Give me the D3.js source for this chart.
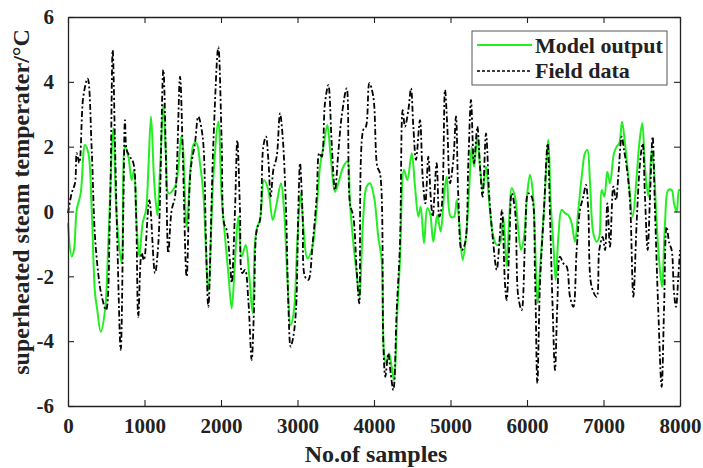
<!DOCTYPE html>
<html>
<head>
<meta charset="utf-8">
<script src="https://cdn.jsdelivr.net/npm/d3@7"></script>
<style>
  body { margin: 0; background: #fff; }
  text { font-family: "Liberation Serif", "Times New Roman", serif; font-weight: bold; fill: #222; }
</style>
</head>
<body>
<div class="chart"></div>
<script>
// field data (black dash-dot)
const fieldX = [0, 48, 92, 114, 148, 200, 257, 310, 353, 410, 440, 497, 549, 584, 614, 645, 689, 723, 745, 767, 810, 854, 889, 919, 963, 993,
  1063, 1137, 1181, 1246, 1281, 1311, 1355, 1399, 1464, 1499, 1551, 1603, 1660, 1703, 1760, 1804, 1834, 1900, 1965,
  2009, 2039, 2074, 2118, 2140, 2183, 2213, 2248, 2278, 2314, 2357, 2401, 2431, 2467, 2510, 2553, 2588, 2619, 2650, 2684, 2728, 2771, 2806, 2850, 2880, 2911, 2945, 2980,
  3011, 3033, 3068, 3098, 3141, 3198, 3251, 3285, 3316, 3359, 3403, 3447, 3490, 3533, 3577, 3643, 3686, 3730, 3773, 3808, 3860, 3895, 3939, 3991,
  4043, 4078, 4122, 4148, 4187, 4218, 4253, 4297, 4340, 4375, 4405, 4449, 4484, 4514, 4549, 4601, 4636, 4671, 4710, 4741, 4767, 4819, 4854, 4885, 4928, 4958, 4993,
  5037, 5072, 5102, 5146, 5190, 5233, 5268, 5307, 5351, 5386, 5420, 5464, 5507, 5551, 5604, 5638, 5673, 5712, 5734, 5769, 5800, 5843, 5886, 5930, 5974,
  6017, 6061, 6105, 6135, 6170, 6222, 6270, 6301, 6336, 6366, 6397, 6431, 6475, 6519, 6562, 6606, 6649, 6693, 6736, 6771, 6801, 6845, 6911, 6945, 6989,
  7020, 7050, 7085, 7129, 7163, 7193, 7238, 7268, 7303, 7346, 7390, 7433, 7477, 7512, 7542, 7577, 7608, 7642, 7673, 7716, 7760, 7791, 7825, 7860, 7891, 7922, 7948, 7978, 8000];
const fieldY = [-0.05, 0.57, 0.88, 1.8, 1.5, 3.54, 4.1, 1.9, -0.78, -2.2, -2.6, -3.04, 0.05, 4.98, 2.1, -0.98, -4.27, 0.04, 2.82, 1.9, 1.69, 1.5, 0.05, -3.25, -1.28, -1.5,
  0.35, -1.9, -0.98, 4.37, 1.59, -1.28, 0.05, 0.46, 4.16, 1.9, -2.01, 1.28, 2.11, 2.93, 2.31, -0.98, -2.94, 2.11, 5.07,
  2.11, -0.36, -0.57, -1.59, -2.2, 0.05, 2.2, 0.05, -1.9, -1.8, -2.73, -4.58, -3.04, -0.57, -0.26, 2.0, 2.31, 1.59, 0.46, 1.28, 1.69, 3.03, 2.31, 0.05, -2.83, -4.17, -3.86, -3.04,
  0.05, 1.49, -0.16, -2.01, -2.11, -0.98, 0.46, 1.8, 1.69, 3.34, 3.9, 2.1, 0.66, 1.8, 2.93, 3.8, 0.25, -0.16, -1.8, -2.83, 2.52, 2.62, 3.96, 3.54,
  1.38, 1.18, -4.07, -5.1, -4.38, -4.99, -5.51, -3.04, -0.98, 3.13, 2.62, 3.13, 3.8, 2.62, 1.59, 2.82, 1.07, 0.25, 1.69, 0.46, -0.16, 1.49, -0.16, 0.15, 3.75, 2.62, 0.87,
  1.59, 2.93, 0.46, -1.19, -0.98, 1.49, 3.44, 1.49, 2.62, 1.38, 0.46, 2.41, 0.46, -0.78, -1.8, -0.98, 0.05, -2.22, -2.73, -0.98, 0.56, 0.05, -2.63, -3.04, -0.98,
  0.56, 0.46, -2.01, -5.3, -2.22, 0.05, 2.1, -0.16, -3.04, -4.89, -2.83, -1.39, -1.6, -1.7, -2.63, -2.94, -1.19, 0.05, 0.46, 0.82, 0.05, -2.32, -2.63, -1.19, -0.78,
  -1.19, 0.25, -1.09, 0.77, 0.35, 1.07, 2.31, 1.9, 1.38, 0.35, -2.63, -0.36, 1.49, 2.1, 0.46, -1.19, 0.46, 2.31, 0.05, -3.04, -5.41, -3.04, -0.47, -0.98, -1.19, -2.52, -2.94, -2.01, -1.19];

// model output (green)
const modelX = [0, 48, 78, 114, 166, 222, 266, 310, 353, 383, 427, 484, 527, 593, 636, 702, 745, 789, 832, 863, 898, 932, 976,
  1020, 1050, 1085, 1128, 1168, 1203, 1246, 1281, 1316, 1399, 1486, 1551, 1603, 1647, 1682, 1725, 1769, 1834, 1900, 1965,
  2009, 2052, 2096, 2140, 2183, 2227, 2270, 2323, 2370, 2414, 2444, 2475, 2510, 2562, 2619, 2676, 2728, 2784, 2824, 2867, 2911, 2954, 2997,
  3042, 3076, 3129, 3185, 3242, 3294, 3346, 3390, 3434, 3490, 3533, 3599, 3651, 3686, 3730, 3773, 3808, 3860, 3904, 3948,
  4000, 4056, 4100, 4131, 4157, 4196, 4231, 4261, 4305, 4340, 4392, 4436, 4493, 4536, 4580, 4610, 4654, 4697, 4732, 4775, 4827, 4871, 4915, 4950,
  5002, 5046, 5081, 5115, 5159, 5203, 5246, 5277, 5307, 5351, 5386, 5420, 5464, 5507, 5560, 5604, 5647, 5690, 5734, 5769, 5800, 5843, 5886, 5922, 5961,
  6004, 6039, 6074, 6105, 6139, 6170, 6222, 6279, 6310, 6344, 6375, 6410, 6453, 6497, 6540, 6584, 6627, 6671, 6715, 6758, 6789, 6824, 6867, 6911, 6945, 6976,
  7011, 7050, 7085, 7137, 7172, 7206, 7242, 7281, 7325, 7382, 7433, 7468, 7507, 7542, 7586, 7630, 7660, 7695, 7730, 7765, 7804, 7847, 7891, 7922, 7956, 7987, 8000];
const modelY = [-0.36, -1.39, -1.19, 0.05, 0.56, 2.05, 1.8, 0.05, -2.52, -3.04, -3.71, -3.04, -0.98, 2.57, -0.16, -1.6, 2.0, 1.69, 0.97, 1.28, -0.47, -1.39, -0.36,
  0.05, 1.28, 2.93, 0.87, -0.11, 1.28, 3.29, 1.69, 0.56, 0.77, 2.31, -0.47, 1.38, 2.1, 2.1, 1.49, 0.56, -2.42, 1.07, 2.77,
  0.46, -0.78, -1.91, -2.99, -1.5, -0.16, -1.39, -1.03, -2.01, -3.14, -0.98, -0.47, -0.26, 0.97, 0.66, -0.26, 0.25, 0.87, 0.05, -2.01, -3.5, -3.04, -0.98,
  0.56, -0.47, -1.45, -1.19, -0.16, 1.38, 2.1, 2.67, 1.69, 0.61, 0.87, 1.38, 1.54, 0.25, -0.98, -1.91, -2.63, -0.16, 0.77, 0.87,
  0.46, -0.78, -1.5, -4.38, -4.69, -4.38, -4.79, -5.2, -3.04, -1.5, 1.28, 0.97, 1.8, 0.77, -0.16, 0.15, -0.98, 0.1, -0.05, -0.93, -0.11, -0.62, 0.46, 1.07,
  -0.16, -0.16, 0.35, -0.36, -1.5, -0.78, 0.77, 2.0, 1.38, 2.31, 1.38, 0.66, 1.38, 0.25, -0.78, -1.03, -0.98, -0.16, -1.7, -0.16, 0.72, 0.46, -0.57, -1.19, -0.78,
  0.56, 1.13, 0.66, -0.98, -2.83, -1.8, 0.05, 2.21, 0.25, -0.98, -2.11, -0.78, 0.05, -0.05, -0.11, -0.36, -0.93, 0.05, 1.07, 1.8, 1.9, 0.87, -0.67, -0.93, -0.78, 0.66,
  0.46, 1.23, 0.87, 1.8, 2.0, 2.1, 2.77, 2.1, 1.07, -0.16, 1.07, 2.1, 2.72, 1.38, 0.46, 1.9, 1.28, -0.36, -1.6, -2.32, -0.36, 0.66, 0.66, 0.25, -0.01, 0.66, 0.66];

const xTicks = [0, 1000, 2000, 3000, 4000, 5000, 6000, 7000, 8000];
const yTicks = [-6, -4, -2, 0, 2, 4, 6];
const seriesNames = ["Model output", "Field data"];

const width = 703, height = 468;
const margin = { top: 17, right: 23, bottom: 62, left: 68 };

const svg = d3.select(".chart").append("svg")
  .attr("width", width)
  .attr("height", height);

const x = d3.scaleLinear().domain([0, 8000]).range([margin.left, width - margin.right]);
const y = d3.scaleLinear().domain([-6, 6]).range([height - margin.bottom, margin.top]);

const line = d3.line()
  .x(d => x(d[0]))
  .y(d => y(d[1]))
  .curve(d3.curveCatmullRom.alpha(0.5));

const field = fieldX.map((v, i) => [v, fieldY[i]]);
const model = modelX.map((v, i) => [v, modelY[i]]);

svg.append("path")
  .datum(model)
  .attr("fill", "none")
  .attr("stroke", "#22ee22")
  .attr("stroke-width", 2)
  .attr("d", line);

svg.append("path")
  .datum(field)
  .attr("fill", "none")
  .attr("stroke", "#000")
  .attr("stroke-width", 1.8)
  .attr("stroke-dasharray", "6,2.5,2,2.5")
  .attr("d", line);

// axes (inner ticks on all four sides, like a boxed plot)
const tickLen = 6;
const plain = d => String(d);
const axisStyle = g => {
  g.select(".domain").attr("stroke", "#222").attr("stroke-width", 1.3);
  g.selectAll(".tick line").attr("stroke", "#222").attr("stroke-width", 1.1);
};

svg.append("g")
  .attr("transform", `translate(0,${height - margin.bottom})`)
  .call(d3.axisBottom(x).tickValues(xTicks).tickFormat(plain).tickSize(-tickLen).tickPadding(12).tickSizeOuter(0))
  .call(axisStyle)
  .call(g => g.selectAll("text").attr("font-size", 21).attr("fill", "#222"));

svg.append("g")
  .attr("transform", `translate(0,${margin.top})`)
  .call(d3.axisTop(x).tickValues(xTicks).tickSize(-tickLen).tickFormat("").tickSizeOuter(0))
  .call(axisStyle);

svg.append("g")
  .attr("transform", `translate(${margin.left},0)`)
  .call(d3.axisLeft(y).tickValues(yTicks).tickFormat(plain).tickSize(-tickLen).tickPadding(14).tickSizeOuter(0))
  .call(axisStyle)
  .call(g => g.selectAll("text").attr("font-size", 21).attr("fill", "#222"));

svg.append("g")
  .attr("transform", `translate(${width - margin.right},0)`)
  .call(d3.axisRight(y).tickValues(yTicks).tickSize(-tickLen).tickFormat("").tickSizeOuter(0))
  .call(axisStyle);

// axis titles
svg.append("text")
  .attr("x", 376)
  .attr("y", 462)
  .attr("text-anchor", "middle")
  .attr("font-size", 24)
  .text("No.of samples");

svg.append("text")
  .attr("transform", "translate(29,202) rotate(-90)")
  .attr("text-anchor", "middle")
  .attr("font-size", 24)
  .text("superheated steam temperater/°C");

// legend
const legend = svg.append("g").attr("transform", "translate(472,31)");
legend.append("rect")
  .attr("width", 195).attr("height", 54)
  .attr("fill", "#fff").attr("stroke", "#555").attr("stroke-width", 1);

legend.selectAll(".key")
  .data(seriesNames)
  .enter().append("line")
  .attr("x1", 5).attr("x2", 60)
  .attr("y1", (d, i) => 14 + i * 26)
  .attr("y2", (d, i) => 14 + i * 26)
  .attr("stroke", (d, i) => i === 0 ? "#22ee22" : "#000")
  .attr("stroke-width", (d, i) => i === 0 ? 2 : 1.4)
  .attr("stroke-dasharray", (d, i) => i === 0 ? null : "3,2");

legend.selectAll(".label")
  .data(seriesNames)
  .enter().append("text")
  .attr("x", 63)
  .attr("y", (d, i) => 22 + i * 25)
  .attr("font-size", 22)
  .attr("fill", "#111")
  .text(d => d);
</script>
</body>
</html>
